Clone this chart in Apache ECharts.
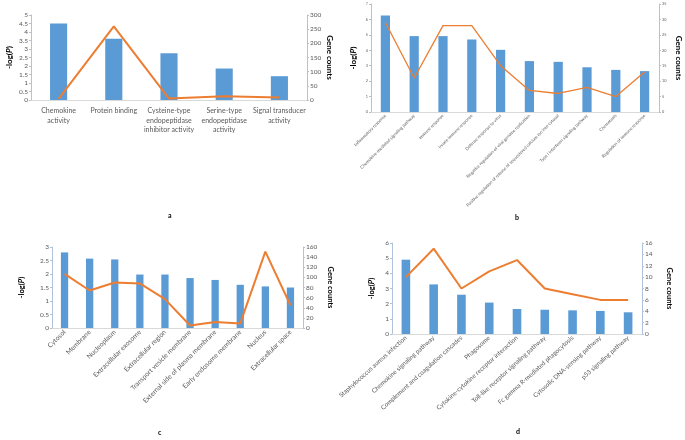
<!DOCTYPE html>
<html><head><meta charset="utf-8">
<script src="https://cdn.jsdelivr.net/npm/echarts@6/dist/echarts.min.js"></script>
<style>html,body{margin:0;padding:0;background:#fff}#c{width:685px;height:440px}</style>
</head><body><div id="c"></div>
<script>
// Panel a
const catsA = ["Chemokine\nactivity","Protein binding","Cysteine-type\nendopeptidase\ninhibitor activity","Serine-type\nendopeptidase\nactivity","Signal transducer\nactivity"];
const logPA = [4.5, 3.6, 2.75, 1.85, 1.4];
const countsA = [4, 260, 5, 13, 9];
// Panel b
const catsB = ["Inflammatory response","Chemokine-mediated signaling pathway","Immune response","Innate immune response","Defense response to virus","Negative regulation of viral genome replication","Positive regulation of release of sequestered calcium ion into cytosol","Type I interferon signaling pathway","Chemotaxis","Regulation of immune response"];
const logPB = [6.25, 4.92, 4.92, 4.7, 4.03, 3.3, 3.25, 2.9, 2.73, 2.65];
const countsB = [29, 11, 28, 28, 15, 7, 6, 8, 5, 13];
// Panel c
const catsC = ["Cytosol","Membrane","Nucleoplasm","Extracellular exosome","Extracellular region","Transport vesicle membrane","External side of plasma membrane","Early endosome membrane","Nucleus","Extracellular space"];
const logPC = [2.8, 2.57, 2.54, 1.98, 1.98, 1.85, 1.78, 1.6, 1.54, 1.5];
const countsC = [107, 74, 90, 88, 57, 5, 12, 9, 151, 45];
// Panel d
const catsD = ["Staphylococcus aureus infection","Chemokine signaling pathway","Complement and coagulation cascades","Phagosome","Cytokine-cytokine receptor interaction","Toll-like receptor signaling pathway","Fc gamma R-mediated phagocytosis","Cytosolic DNA-sensing pathway","p53 signaling pathway"];
const logPD = [4.9, 3.27, 2.59, 2.07, 1.65, 1.6, 1.56, 1.52, 1.43];
const countsD = [10, 15, 8, 11, 13, 8, 7, 6, 6];
// Axis ranges
const axA = {lmax:5, lint:0.5, rmax:300, rint:50};
const axB = {lmax:7, lint:1, rmax:35, rint:5};
const axC = {lmax:3, lint:0.5, rmax:160, rint:20};
const axD = {lmax:6, lint:1, rmax:16, rint:2};

const FONT = "Lato, 'Liberation Sans', sans-serif";
const AXC = "#AFC3DC";
const TXT = "#595959";
const BAR = "#5B9BD5";
const LINE = "#ED7D31";

const panels = [
  {cats:catsA, bars:logPA, line:countsA, ax:axA, grid:{left:31,right:378,top:15,bottom:340}, fs:7, rot:0, bw:'31%', lw:2, nfs:8, lgap:18, rgap:18, tfs:6.5},
  {cats:catsB, bars:logPB, line:countsB, ax:axB, grid:{left:371,right:26,top:4,bottom:328}, fs:4.3, rot:45, bw:'32%', lw:1.3, nfs:8, lgap:14, rgap:16, tfs:3.8},
  {cats:catsC, bars:logPC, line:countsC, ax:axC, grid:{left:52,right:382,top:247,bottom:112}, fs:6.7, rot:45, bw:'29%', lw:2, nfs:7.5, lgap:26, rgap:23, tfs:6.5},
  {cats:catsD, bars:logPD, line:countsD, ax:axD, grid:{left:392,right:43,top:243,bottom:106}, fs:6.3, rot:42, bw:'31%', lw:2, nfs:7.5, lgap:16, rgap:23, tfs:6.5}
];

const grid=[], xAxis=[], yAxis=[], series=[];
panels.forEach((p,i)=>{
  grid.push(Object.assign({containLabel:false}, p.grid));
  xAxis.push({type:'category', gridIndex:i, data:p.cats,
    axisLine:{lineStyle:{color:'#D9D9D9', width:1}}, axisTick:{show:false},
    axisLabel:{interval:0, rotate:p.rot, fontSize:p.fs, color:TXT, fontFamily:FONT, margin:p.rot?3:6, lineHeight:p.rot?p.fs+1:9.5}});
  yAxis.push({type:'value', gridIndex:i, min:0, max:p.ax.lmax, interval:p.ax.lint, position:'left',
    name:'{a|-log(}{b|P}{a|)}', nameLocation:'middle', nameGap:p.lgap,
    nameTextStyle:{rich:{a:{fontSize:p.nfs, fontWeight:'bold', color:'#000', fontFamily:FONT}, b:{fontSize:p.nfs, fontWeight:'bold', fontStyle:'italic', color:'#000', fontFamily:FONT}}},
    axisLine:{show:true, lineStyle:{color:AXC}}, axisTick:{show:true, length:2, lineStyle:{color:AXC}},
    splitLine:{show:false}, axisLabel:{fontSize:p.tfs, color:TXT, fontFamily:FONT, margin:3}});
  yAxis.push({type:'value', gridIndex:i, min:0, max:p.ax.rmax, interval:p.ax.rint, position:'right',
    name:'Gene counts', nameLocation:'middle', nameGap:p.rgap, nameRotate:-90,
    nameTextStyle:{fontSize:p.nfs, fontWeight:'bold', color:'#000', fontFamily:FONT},
    axisLine:{show:true, lineStyle:{color:AXC}}, axisTick:{show:true, length:2, lineStyle:{color:AXC}},
    splitLine:{show:false}, axisLabel:{fontSize:p.tfs, color:TXT, fontFamily:FONT, margin:3}});
  series.push({type:'bar', xAxisIndex:i, yAxisIndex:2*i, data:p.bars, barWidth:p.bw, itemStyle:{color:BAR}, silent:true});
  series.push({type:'line', xAxisIndex:i, yAxisIndex:2*i+1, data:p.line, symbol:'none', lineStyle:{color:LINE, width:p.lw}, silent:true});
});

const chart = echarts.init(document.getElementById('c'), null, {renderer:'canvas'});
chart.setOption({
  animation:false,
  backgroundColor:'#fff',
  grid, xAxis, yAxis, series,
  graphic:[
    {type:'text', left:168, top:212, style:{text:'a', font:'bold 7px Lato', fill:'#000'}},
    {type:'text', left:515, top:214, style:{text:'b', font:'bold 7px Lato', fill:'#000'}},
    {type:'text', left:158, top:429, style:{text:'c', font:'bold 7px Lato', fill:'#000'}},
    {type:'text', left:516, top:428, style:{text:'d', font:'bold 7px Lato', fill:'#000'}}
  ]
});
</script></body></html>
